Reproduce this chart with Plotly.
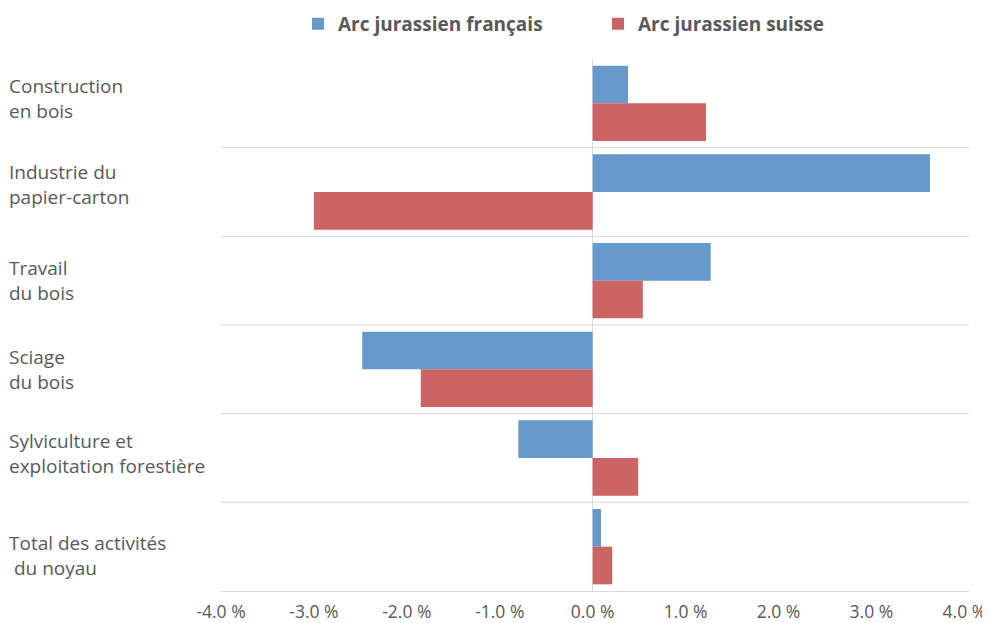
import plotly.graph_objects as go

categories = [
    "Construction<br>en bois",
    "Industrie du<br>papier-carton",
    "Travail<br>du bois",
    "Sciage<br>du bois",
    "Sylviculture et<br>exploitation forestière",
    "Total des activités<br>\u00a0du noyau",
]
series_names = ["Arc jurassien français", "Arc jurassien suisse"]
francais = [0.38, 3.63, 1.27, -2.48, -0.80, 0.09]
suisse = [1.22, -3.00, 0.54, -1.85, 0.49, 0.21]
tick_vals = [-4, -3, -2, -1, 0, 1, 2, 3, 4]
tick_text = ["-4.0 %", "-3.0 %", "-2.0 %", "-1.0 %", "0.0 %", "1.0 %", "2.0 %", "3.0 %", "4.0 %"]

BLUE = "#6699CC"
RED = "#CD6464"
TEXT = "#595959"
GRID = "#D9D9D9"
LABEL_YSHIFT = [5, 8, 0, 0, 5, -9]  # layout nudges of the category labels (px)

fig = go.Figure()
fig.add_trace(go.Bar(y=categories, x=francais, orientation="h", name=series_names[0],
                     marker=dict(color=BLUE, line=dict(width=0))))
fig.add_trace(go.Bar(y=categories, x=suisse, orientation="h", name=series_names[1],
                     marker=dict(color=RED, line=dict(width=0))))

# separators at category boundaries
for i in range(len(categories) - 1):
    fig.add_shape(type="line", xref="paper", yref="y", x0=0, x1=1, y0=i + 0.5, y1=i + 0.5,
                  line=dict(color=GRID, width=1), layer="below")

# left-aligned category labels
for c, ys in zip(categories, LABEL_YSHIFT):
    fig.add_annotation(xref="paper", yref="y", x=-0.2861, y=c, text=c, showarrow=False,
                       xanchor="left", yanchor="middle", align="left", yshift=ys,
                       font=dict(family="Open Sans", size=19, color=TEXT))

fig.update_layout(
    width=982, height=615,
    margin=dict(l=213, r=21, t=51, b=32, autoexpand=False),
    paper_bgcolor="white", plot_bgcolor="white",
    barmode="group", bargap=0.15, bargroupgap=0,
    showlegend=True,
    legend=dict(orientation="h", xref="container", yref="paper",
                x=0.2953, xanchor="left", y=1.066, yanchor="middle",
                font=dict(family="Open Sans", size=19, color=TEXT, weight="bold"),
                entrywidth=255, entrywidthmode="pixels", itemwidth=30,
                traceorder="normal", bgcolor="rgba(0,0,0,0)"),
    xaxis=dict(range=[-4, 4.05], tickvals=tick_vals, ticktext=tick_text, showgrid=False,
               zeroline=True, zerolinecolor=GRID, zerolinewidth=1,
               showline=True, linecolor=GRID, linewidth=1, automargin=False,
               ticklabelstandoff=5,
               tickfont=dict(family="Open Sans", size=17.5, color=TEXT), ticks=""),
    yaxis=dict(autorange="reversed", showticklabels=False, showgrid=False, zeroline=False,
               showline=False, ticks="", automargin=False),
)

fig.write_html("out.html")
